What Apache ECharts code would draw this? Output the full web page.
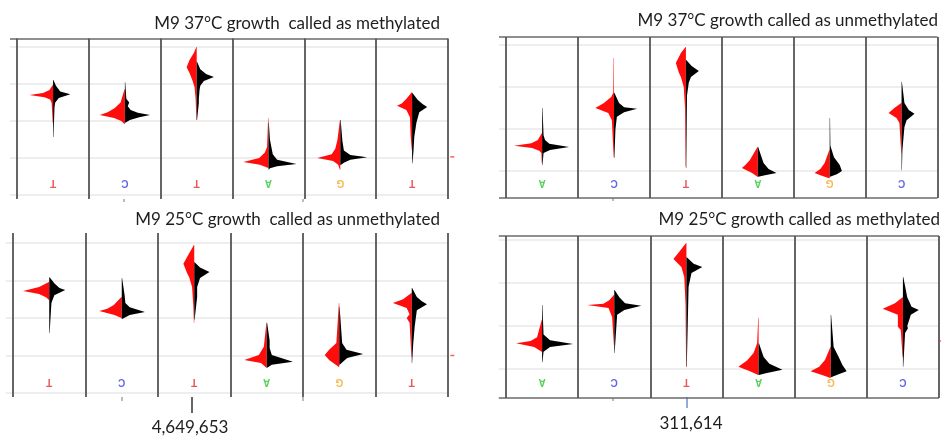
<!DOCTYPE html>
<html>
<head>
<meta charset="utf-8">
<script src="https://cdn.jsdelivr.net/npm/echarts@6/dist/echarts.min.js"></script>
<style>
  html, body { margin: 0; padding: 0; background: #fff; }
  #main { width: 941px; height: 438px; }
</style>
</head>
<body>
<div id="main"></div>
<script>
// base calls under the six columns
const basesA = ['T', 'C', 'T', 'A', 'G', 'T'];
const basesB = ['A', 'C', 'T', 'A', 'G', 'C'];

// horizontal gridline levels (normalised signal)
const gridLevels4 = [0, 1, 2, 3, 4];
const gridLevels3 = [0, 1, 2, 3];

// column boundaries
const columnEdges = [-0.5, 0.5, 1.5, 2.5, 3.5, 4.5, 5.5];

// half violins: [signal level, half width in column units], top to bottom
// red = left half, black = right half
const tlRed = [
  [[2.97, .005], [2.84, .05], [2.76, .14], [2.70, .33], [2.64, .12], [2.58, .04], [2.49, .02], [1.95, .005]],
  [[2.86, .005], [2.5, .06], [2.35, .14], [2.24, .24], [2.16, .35], [2.08, .15], [2.0, .05], [1.92, .005]],
  [[4.0, .005], [3.84, .04], [3.65, .1], [3.45, .14], [3.3, .1], [3.1, .06], [2.92, .03], [2.6, .015], [2.03, .005]],
  [[2.08, .005], [1.3, .02], [1.15, .05], [1.0, .13], [0.89, .35], [0.82, .12], [0.75, .03], [0.73, .005]],
  [[2.03, .005], [1.49, .04], [1.25, .07], [1.1, .12], [1.0, .32], [0.92, .1], [0.82, .03], [0.68, .005]],
  [[2.78, .005], [2.62, .07], [2.48, .14], [2.41, .21], [2.3, .08], [2.1, .03], [1.6, .02], [1.22, .005]]
];
const tlBlack = [
  [[3.11, .005], [2.95, .04], [2.80, .1], [2.72, .24], [2.62, .08], [2.50, .03], [2.38, .02], [1.57, .005]],
  [[3.05, .005], [2.6, .02], [2.5, .06], [2.4, .04], [2.3, .08], [2.22, .18], [2.16, .35], [2.1, .2], [2.03, .07], [1.95, .005]],
  [[3.6, .005], [3.4, .05], [3.27, .13], [3.19, .24], [3.08, .1], [2.95, .05], [2.84, .04], [2.6, .03], [2.49, .03], [2.03, .005]],
  [[1.95, .005], [1.5, .02], [1.3, .04], [1.1, .06], [0.95, .12], [0.84, .39], [0.78, .12], [0.72, .02], [0.69, .005]],
  [[2.03, .005], [1.45, .03], [1.2, .05], [1.08, .14], [1.02, .375], [0.95, .14], [0.87, .05], [0.81, .005]],
  [[2.76, .005], [2.57, .08], [2.45, .15], [2.38, .21], [2.24, .1], [1.95, .06], [1.57, .03], [1.2, .02], [0.86, .005]]
];

const trRed = [
  [[0.9, .005], [0.74, .06], [0.66, .15], [0.6, .39], [0.55, .14], [0.48, .04], [0.43, .01], [0.19, .005]],
  [[2.69, .005], [1.86, .01], [1.76, .04], [1.62, .14], [1.5, .26], [1.38, .08], [1.21, .03], [0.33, .005]],
  [[2.95, .005], [2.81, .07], [2.57, .14], [2.35, .1], [2.24, .07], [2.0, .03], [1.5, .012], [0.1, .005]],
  [[0.57, .005], [0.26, .11], [0.15, .17], [0.07, .22], [-0.05, .08], [-0.14, .005]],
  [[0.5, .005], [0.19, .07], [0.05, .13], [-0.05, .21], [-0.12, .1], [-0.17, .005]],
  [[1.62, .005], [1.5, .1], [1.38, .18], [1.26, .07], [1.14, .03], [0.43, .005]]
];
const trBlack = [
  [[1.5, .005], [0.85, .02], [0.74, .04], [0.65, .1], [0.57, .375], [0.5, .11], [0.43, .02], [0.14, .005]],
  [[1.86, .005], [1.62, .07], [1.52, .14], [1.48, .32], [1.4, .14], [1.29, .04], [1.0, .02], [0.31, .005]],
  [[2.64, .005], [2.5, .08], [2.38, .18], [2.24, .07], [2.1, .04], [1.8, .015], [0.07, .005]],
  [[0.57, .005], [0.19, .08], [0.05, .15], [-0.05, .26], [-0.1, .1], [-0.14, .005]],
  [[1.26, .005], [0.6, .01], [0.33, .06], [0.14, .14], [0.0, .17], [-0.08, .1], [-0.14, .005]],
  [[2.12, .005], [1.62, .04], [1.45, .1], [1.36, .18], [1.21, .07], [1.05, .04], [0.5, .012], [0.02, .005]]
];

const blRed = [
  [[2.96, .005], [2.83, .14], [2.72, .36], [2.64, .14], [2.55, .04], [2.48, .005]],
  [[2.56, .005], [2.35, .11], [2.25, .2], [2.19, .31], [2.08, .1], [2.0, .005]],
  [[3.95, .005], [3.73, .07], [3.45, .15], [3.2, .1], [3.09, .07], [2.83, .03], [2.3, .012], [1.87, .005]],
  [[1.87, .005], [1.23, .04], [1.01, .11], [0.88, .31], [0.8, .08], [0.67, .005]],
  [[2.4, .005], [1.33, .04], [1.15, .14], [1.01, .2], [0.88, .14], [0.69, .005]],
  [[2.67, .005], [2.5, .12], [2.4, .26], [2.27, .07], [2.1, .03], [2.0, .07], [1.87, .03], [0.96, .005]]
];
const blBlack = [
  [[3.09, .005], [2.93, .07], [2.8, .14], [2.75, .22], [2.61, .07], [2.4, .03], [1.6, .005]],
  [[3.07, .005], [2.6, .04], [2.4, .05], [2.29, .11], [2.16, .32], [2.08, .11], [1.97, .005]],
  [[3.49, .005], [3.35, .08], [3.23, .21], [3.07, .08], [2.83, .04], [2.56, .04], [1.95, .005]],
  [[1.87, .005], [1.4, .04], [1.2, .04], [1.01, .07], [0.83, .36], [0.75, .07], [0.67, .005]],
  [[2.3, .005], [1.33, .04], [1.15, .1], [1.04, .33], [0.93, .11], [0.75, .005]],
  [[2.8, .005], [2.56, .07], [2.45, .14], [2.37, .21], [2.21, .07], [1.76, .04], [1.3, .02], [0.8, .005]]
];

const brRed = [
  [[1.14, .005], [0.74, .07], [0.65, .16], [0.6, .36], [0.51, .11], [0.4, .005]],
  [[1.72, .005], [1.6, .07], [1.52, .15], [1.49, .375], [1.42, .08], [1.21, .03], [0.56, .005]],
  [[2.93, .005], [2.77, .08], [2.56, .18], [2.37, .07], [2.14, .03], [1.5, .012], [0.05, .005]],
  [[1.19, .005], [0.6, .02], [0.37, .07], [0.2, .16], [0.05, .28], [-0.05, .12], [-0.14, .005]],
  [[0.51, .005], [0.21, .08], [0.05, .16], [-0.05, .28], [-0.15, .1], [-0.21, .005]],
  [[1.67, .005], [1.53, .11], [1.4, .28], [1.26, .07], [0.98, .07], [0.91, .03], [0.28, .005]]
];
const brBlack = [
  [[1.49, .005], [0.8, .02], [0.67, .11], [0.58, .43], [0.51, .11], [0.4, .02], [0.16, .005]],
  [[1.84, .005], [1.67, .07], [1.53, .15], [1.47, .375], [1.37, .14], [1.26, .04], [0.37, .005]],
  [[2.6, .005], [2.45, .1], [2.37, .22], [2.23, .07], [1.91, .03], [0.05, .005]],
  [[0.6, .005], [0.28, .07], [0.12, .15], [-0.02, .33], [-0.1, .1], [-0.14, .005]],
  [[1.26, .005], [0.51, .04], [0.28, .11], [0.1, .16], [-0.05, .22], [-0.13, .1], [-0.19, .005]],
  [[2.14, .005], [1.67, .06], [1.45, .12], [1.37, .22], [1.26, .11], [1.0, .06], [0.95, .07], [0.84, .03], [0.05, .005]]
];

// stray red marks from the next (clipped) column
const tlEdge = [[5.56, 1.03]];
const trEdge = [];
const blEdge = [[5.56, 1.0]];
const brEdge = [[5.53, 0.65]];

const baseColors = { T: '#e52d2d', C: '#3f3fe0', A: '#2fc42f', G: '#f5a623' };

const panels = [
  { title: 'M9 37°C growth  called as methylated', bases: basesA, red: tlRed, black: tlBlack, levels: gridLevels4, edge: tlEdge,
    yMin: -0.108, yMax: 4.23, baseLevel: 0.32, box: { left: 10, top: 38.5, width: 438, height: 160.5 }, tRight: 496, tTop: 10 },
  { title: 'M9 37°C growth called as unmethylated', bases: basesB, red: trRed, black: trBlack, levels: gridLevels3, edge: trEdge,
    yMin: -0.643, yMax: 3.19, baseLevel: -0.29, box: { left: 499, top: 37, width: 438.5, height: 161 }, tRight: -2, tTop: 7 },
  { title: 'M9 25°C growth  called as unmethylated', bases: basesA, red: blRed, black: blBlack, levels: gridLevels4, edge: blEdge,
    yMin: -0.107, yMax: 4.267, baseLevel: 0.29, box: { left: 5.75, top: 233, width: 442.25, height: 164 }, tRight: 496, tTop: 206 },
  { title: 'M9 25°C growth called as methylated', bases: basesB, red: brRed, black: brBlack, levels: gridLevels3, edge: brEdge,
    yMin: -0.674, yMax: 3.093, baseLevel: -0.3, box: { left: 498.8, top: 236, width: 440.2, height: 162 }, tRight: -4, tTop: 206 }
];

function violinItem(red, black) {
  return function (params, api) {
    const c = api.value(0);
    const half = (prof, side, color) => {
      const pts = prof.map(p => api.coord([c + side * p[1], p[0]]));
      pts.push(api.coord([c, prof[prof.length - 1][0]]));
      pts.push(api.coord([c, prof[0][0]]));
      return { type: 'polygon', shape: { points: pts }, style: { fill: color } };
    };
    return { type: 'group', children: [half(red[c], -1, '#ff0d0d'), half(black[c], 1, '#000000')] };
  };
}

let grids = [], xAxes = [], yAxes = [], series = [], titles = [];
panels.forEach((p, i) => {
  grids.push(Object.assign({ containLabel: false }, p.box));
  xAxes.push({ type: 'value', gridIndex: i, min: -0.6, max: 5.5, show: false });
  yAxes.push({ type: 'value', gridIndex: i, min: p.yMin, max: p.yMax, show: false });
  titles.push({ text: p.title, right: p.tRight, top: p.tTop,
    textStyle: { fontFamily: 'Lato', fontSize: 17, fontWeight: 'normal', color: '#1e1e1e' } });

  const lines = [];
  p.levels.forEach(v => lines.push({ yAxis: v, lineStyle: { color: '#e9e9e9', width: 1.6, type: 'solid' } }));
  [p.yMin, p.yMax].forEach(v => lines.push({ yAxis: v, lineStyle: { color: '#6a6a6a', width: 1.6, type: 'solid' } }));
  columnEdges.forEach(v => lines.push({ xAxis: v, lineStyle: { color: '#555555', width: 1.8, type: 'solid' } }));

  series.push({
    type: 'scatter', xAxisIndex: i, yAxisIndex: i, symbolSize: 0, z: 2, silent: true,
    data: p.bases.map((b, k) => ({ value: [k, p.baseLevel], name: b, label: { color: baseColors[b] } })),
    label: { show: true, position: 'inside', rotate: 180, formatter: d => d.name,
      fontFamily: 'Liberation Sans', fontSize: 10, fontWeight: 'bold' },
    markLine: { silent: true, symbol: 'none', animation: false, z: 1, label: { show: false }, data: lines }
  });
  series.push({
    type: 'custom', xAxisIndex: i, yAxisIndex: i, z: 10, silent: true,
    data: p.bases.map((b, k) => [k, 0]),
    renderItem: violinItem(p.red, p.black)
  });
  series.push({
    type: 'scatter', xAxisIndex: i, yAxisIndex: i, z: 10, silent: true, clip: false,
    symbol: 'rect', symbolSize: [4, 1.5], itemStyle: { color: '#ff3333' },
    data: p.edge
  });
});

const chart = echarts.init(document.getElementById('main'));
chart.setOption({
  animation: false,
  backgroundColor: '#ffffff',
  title: titles,
  grid: grids,
  xAxis: xAxes,
  yAxis: yAxes,
  series: series,
  graphic: [
    { type: 'line', shape: { x1: 192, y1: 397, x2: 192, y2: 413 }, style: { stroke: '#333', lineWidth: 1.5 } },
    { type: 'text', x: 190, y: 428, style: { text: '4,649,653', font: '17px Lato', fill: '#1e1e1e', align: 'center', verticalAlign: 'middle' } },
    { type: 'line', shape: { x1: 687, y1: 397, x2: 687, y2: 408 }, style: { stroke: '#6b8fd6', lineWidth: 1.5 } },
    { type: 'text', x: 691, y: 424, style: { text: '311,614', font: '17px Lato', fill: '#1e1e1e', align: 'center', verticalAlign: 'middle' } },
    { type: 'line', shape: { x1: 124, y1: 199, x2: 124, y2: 202 }, style: { stroke: '#777', lineWidth: 1 } },
    { type: 'line', shape: { x1: 303, y1: 199, x2: 303, y2: 202 }, style: { stroke: '#777', lineWidth: 1 } },
    { type: 'line', shape: { x1: 122, y1: 397, x2: 122, y2: 401 }, style: { stroke: '#777', lineWidth: 1 } },
    { type: 'line', shape: { x1: 303, y1: 397, x2: 303, y2: 401 }, style: { stroke: '#777', lineWidth: 1 } },
    { type: 'line', shape: { x1: 613, y1: 198, x2: 613, y2: 201 }, style: { stroke: '#777', lineWidth: 1 } },
    { type: 'line', shape: { x1: 613, y1: 398, x2: 613, y2: 401 }, style: { stroke: '#777', lineWidth: 1 } }
  ]
});
</script>
</body>
</html>
